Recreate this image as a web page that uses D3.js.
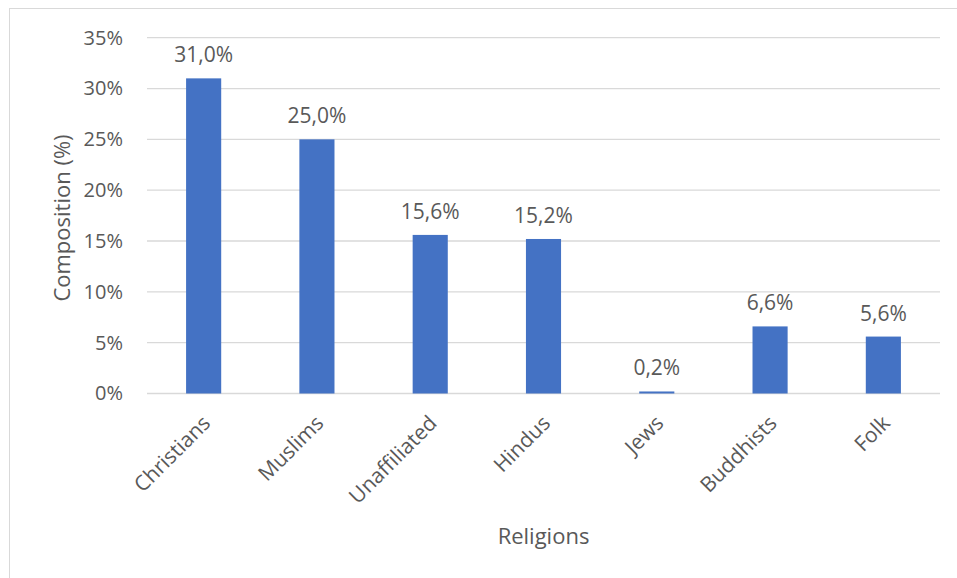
<!DOCTYPE html>
<html><head><meta charset="utf-8">
<script src="https://cdn.jsdelivr.net/npm/d3@7"></script>
<style>body{margin:0;background:#fff;} text{font-family:"Open Sans",sans-serif;fill:#595959;}</style>
</head><body>
<svg id="c" width="957" height="578"></svg>
<script>
const categories = ["Christians","Muslims","Unaffiliated","Hindus","Jews","Buddhists","Folk"];
const values = [31.0, 25.0, 15.6, 15.2, 0.2, 6.6, 5.6];
const yTicks = [0,5,10,15,20,25,30,35];
const yTitle = "Composition (%)";
const xTitle = "Religions";

const svg = d3.select("#c");
svg.append("rect").attr("x",9.5).attr("y",8.5).attr("width",960).attr("height",580)
  .attr("fill","#fff").attr("stroke","#d9d9d9").attr("stroke-width",1);

const m = {left:147, right:940, top:37.7, bottom:393.5};
const x = d3.scaleBand().domain(categories).range([m.left,m.right]).paddingInner(0.69).paddingOuter(0.345);
const y = d3.scaleLinear().domain([0,35]).range([m.bottom,m.top]);

// gridlines
svg.append("g").selectAll("line").data(yTicks).join("line")
  .attr("x1",m.left).attr("x2",m.right)
  .attr("y1",d=>y(d)).attr("y2",d=>y(d))
  .attr("stroke","#d9d9d9").attr("stroke-width",1.3);

// y axis
const ya = svg.append("g").attr("transform",`translate(${m.left},0)`)
  .call(d3.axisLeft(y).tickValues(yTicks).tickSize(0).tickPadding(24).tickFormat(d=>d+"%"));
ya.select(".domain").remove();
ya.selectAll("text").style("font-size","20px").attr("fill","#595959").style("font-family","'Open Sans',sans-serif");

// bars
svg.append("g").selectAll("rect").data(values).join("rect")
  .attr("x",(d,i)=>x(categories[i])).attr("width",x.bandwidth())
  .attr("y",d=>y(d)).attr("height",d=>y(0)-y(d))
  .attr("fill","#4472c4");

// value labels
svg.append("g").selectAll("text").data(values).join("text")
  .attr("x",(d,i)=>x(categories[i])+x.bandwidth()/2)
  .attr("y",d=>y(d)-16)
  .attr("text-anchor","middle").style("font-size","21px")
  .text(d=>d.toFixed(1).replace(".",",")+"%");

// x axis
const xa = svg.append("g").attr("transform",`translate(0,${m.bottom})`)
  .call(d3.axisBottom(x).tickSize(0).tickPadding(0));
xa.select(".domain").remove();
xa.selectAll("text").style("font-size","21px").attr("fill","#595959").style("font-family","'Open Sans',sans-serif")
  .attr("text-anchor","end").attr("dy",0)
  .attr("transform","translate(8,31) rotate(-45)");

// titles
svg.append("text").attr("transform",`translate(70,218) rotate(-90)`)
  .attr("text-anchor","middle").style("font-size","22px").text(yTitle);
svg.append("text").attr("x",(m.left+m.right)/2).attr("y",544)
  .attr("text-anchor","middle").style("font-size","22px").text(xTitle);
</script>
</body></html>
